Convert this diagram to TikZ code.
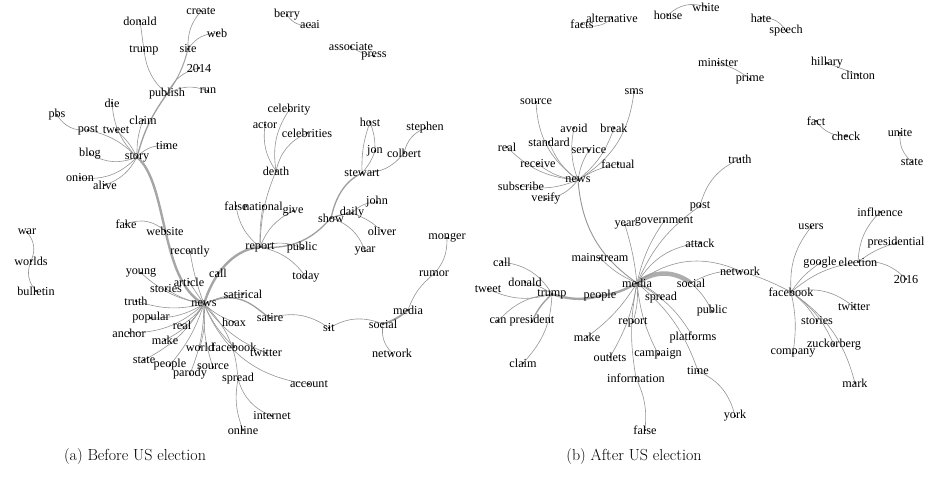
\documentclass[tikz,border=0pt]{standalone}
\usepackage{fontspec}
\newfontfamily\wordfont{Liberation Serif}
\usetikzlibrary{backgrounds}
\tikzset{
  dot/.style={circle,fill=black,inner sep=0pt,minimum size=2.2pt},
  wl/.style={font=\wordfont\fontsize{12.2}{13}\selectfont,inner sep=0pt},
  edge/.style={draw=black!42,line width=0.6pt},
  med/.style={edge,line width=1.3pt,draw=black!38},
  thk/.style={edge,line width=2.4pt,draw=black!35},
  vthk/.style={edge,line width=4.5pt,draw=black!32},
  captxt/.style={font=\fontsize{16}{18}\selectfont,inner sep=0pt}
}
\newcommand\W[4]{\node[dot,label={[wl]center:#4}] (#1) at (#2,#3) {};}
\newcommand\E[3][]{\draw[edge,#1] (#2) to (#3);}
\begin{document}
\begin{tikzpicture}[x=1pt,y=-1pt]
\useasboundingbox (0,0) rectangle (926,480);
% ---------- (a) nodes
\W{a-donald}{140}{21}{donald}
\W{a-trump}{144}{50}{trump}
\W{a-create}{201}{11}{create}
\W{a-web}{217}{33}{web}
\W{a-site}{188}{49}{site}
\W{a-2014}{199}{68}{2014}
\W{a-publish}{167}{94}{publish}
\W{a-run}{208}{91}{run}
\W{a-die}{112}{103}{die}
\W{a-pbs}{57}{115}{pbs}
\W{a-claim}{143}{120}{claim}
\W{a-post}{88}{130}{post}
\W{a-tweet}{116}{130}{tweet}
\W{a-time}{167}{146}{time}
\W{a-blog}{90}{154}{blog}
\W{a-story}{137}{157}{story}
\W{a-onion}{80}{178}{onion}
\W{a-alive}{105}{185}{alive}
\W{a-berry}{287}{15}{berry}
\W{a-acai}{310}{25}{acai}
\W{a-associate}{351}{47}{associate}
\W{a-press}{374}{56}{press}
\W{a-celebrity}{289}{110}{celebrity}
\W{a-actor}{265}{125}{actor}
\W{a-celebrities}{307}{133}{celebrities}
\W{a-death}{276}{171}{death}
\W{a-host}{370}{122}{host}
\W{a-stephen}{425}{128}{stephen}
\W{a-jon}{375}{151}{jon}
\W{a-colbert}{404}{153}{colbert}
\W{a-stewart}{362}{173}{stewart}
\W{a-false}{236}{206}{false}
\W{a-national}{263}{206}{national}
\W{a-give}{293}{211}{give}
\W{a-show}{331}{218}{show}
\W{a-daily}{352}{213}{daily}
\W{a-john}{377}{202}{john}
\W{a-oliver}{382}{231}{oliver}
\W{a-report}{260}{247}{report}
\W{a-public}{302}{248}{public}
\W{a-year}{365}{251}{year}
\W{a-today}{306}{277}{today}
\W{a-war}{27}{232}{war}
\W{a-worlds}{31}{261}{worlds}
\W{a-bulletin}{36}{291}{bulletin}
\W{a-fake}{126}{224}{fake}
\W{a-website}{165}{231}{website}
\W{a-recently}{190}{252}{recently}
\W{a-young}{141}{273}{young}
\W{a-call}{218}{273}{call}
\W{a-stories}{166}{289}{stories}
\W{a-article}{189}{282}{article}
\W{a-truth}{136}{301}{truth}
\W{a-news}{204}{304}{news}
\W{a-satirical}{243}{294}{satirical}
\W{a-popular}{151}{318}{popular}
\W{a-real}{182}{325}{real}
\W{a-hoax}{234}{322}{hoax}
\W{a-satire}{270}{318}{satire}
\W{a-anchor}{129}{333}{anchor}
\W{a-make}{165}{340}{make}
\W{a-world}{200}{347}{world}
\W{a-facebook}{234}{347}{facebook}
\W{a-twitter}{266}{353}{twitter}
\W{a-state}{144}{360}{state}
\W{a-people}{170}{365}{people}
\W{a-source}{213}{367}{source}
\W{a-parody}{190}{374}{parody}
\W{a-spread}{238}{379}{spread}
\W{a-account}{309}{384}{account}
\W{a-internet}{272}{416}{internet}
\W{a-online}{243}{430}{online}
\W{a-sit}{329}{328}{sit}
\W{a-social}{383}{324}{social}
\W{a-network}{392}{353}{network}
\W{a-media}{408}{310}{media}
\W{a-rumor}{434}{274}{rumor}
\W{a-monger}{447}{238}{monger}
% ---------- (b) nodes
\W{b-facts}{582}{24}{facts}
\W{b-alternative}{612}{18}{alternative}
\W{b-house}{668}{15}{house}
\W{b-white}{706}{7}{white}
\W{b-hate}{761}{18}{hate}
\W{b-speech}{786}{31}{speech}
\W{b-minister}{718}{63}{minister}
\W{b-prime}{750}{79}{prime}
\W{b-hillary}{827}{63}{hillary}
\W{b-clinton}{858}{75}{clinton}
\W{b-sms}{634}{92}{sms}
\W{b-source}{536}{102}{source}
\W{b-avoid}{574}{128}{avoid}
\W{b-break}{614}{128}{break}
\W{b-standard}{549}{142}{standard}
\W{b-real}{507}{147}{real}
\W{b-service}{589}{150}{service}
\W{b-receive}{538}{164}{receive}
\W{b-factual}{618}{164}{factual}
\W{b-news}{578}{180}{news}
\W{b-subscribe}{521}{186}{subscribe}
\W{b-verify}{546}{199}{verify}
\W{b-fact}{816}{121}{fact}
\W{b-check}{846}{136}{check}
\W{b-unite}{900}{133}{unite}
\W{b-state}{912}{162}{state}
\W{b-truth}{740}{159}{truth}
\W{b-post}{700}{206}{post}
\W{b-influence}{880}{212}{influence}
\W{b-year}{625}{225}{year}
\W{b-government}{664}{221}{government}
\W{b-users}{811}{227}{users}
\W{b-attack}{700}{243}{attack}
\W{b-presidential}{896}{243}{presidential}
\W{b-mainstream}{600}{258}{mainstream}
\W{b-call}{502}{262}{call}
\W{b-election}{858}{262}{election}
\W{b-google}{820}{263}{google}
\W{b-network}{740}{271}{network}
\W{b-2016}{906}{279}{2016}
\W{b-donald}{525}{282}{donald}
\W{b-media}{637}{283}{media}
\W{b-social}{691}{283}{social}
\W{b-tweet}{488}{289}{tweet}
\W{b-facebook}{791}{292}{facebook}
\W{b-trump}{552}{294}{trump}
\W{b-people}{600}{296}{people}
\W{b-spread}{661}{298}{spread}
\W{b-twitter}{854}{307}{twitter}
\W{b-public}{712}{311}{public}
\W{b-can}{498}{321}{can}
\W{b-president}{532}{321}{president}
\W{b-report}{633}{322}{report}
\W{b-stories}{817}{321}{stories}
\W{b-make}{587}{337}{make}
\W{b-platforms}{693}{337}{platforms}
\W{b-zuckerberg}{834}{345}{zuckerberg}
\W{b-company}{793}{353}{company}
\W{b-campaign}{658}{354}{campaign}
\W{b-outlets}{610}{357}{outlets}
\W{b-claim}{523}{363}{claim}
\W{b-time}{698}{371}{time}
\W{b-information}{636}{378}{information}
\W{b-mark}{855}{383}{mark}
\W{b-york}{735}{416}{york}
\W{b-false}{645}{430}{false}
% captions
\node[captxt] (capa) at (135,456) {(a) Before US election};
\node[captxt] (capb) at (634,456) {(b) After US election};
\begin{pgfonlayer}{background}
% ---------- (a) edges
\E[bend right=30]{a-pbs}{a-post}
\E[bend left=15]{a-post}{a-story}
\E[bend left=10]{a-tweet}{a-story}
\E[bend right=20]{a-die}{a-story}
\E[bend right=10]{a-claim}{a-story}
\E[bend right=25]{a-time}{a-story}
\E[bend right=25]{a-blog}{a-story}
\E[bend right=25]{a-onion}{a-story}
\E[bend right=20]{a-alive}{a-story}
\draw[med] (a-publish) to[bend right=10] (a-story);
\E{a-donald}{a-trump}
\E[bend right=20]{a-trump}{a-publish}
\draw[med,line width=1pt] (a-site) to[bend left=10] (a-publish);
\E[bend right=20]{a-create}{a-site}
\E[bend right=25]{a-web}{a-site}
\E[bend right=25]{a-2014}{a-publish}
\E[bend right=25]{a-run}{a-publish}
\E[bend right=30]{a-berry}{a-acai}
\E[bend right=10]{a-associate}{a-press}
\E[bend left=30]{a-war}{a-worlds}
\E[bend right=30]{a-worlds}{a-bulletin}
\draw[thk] (a-story) .. controls (168,185) and (160,280) .. (a-news);
\E[bend left=30]{a-fake}{a-website}
\E[bend right=5]{a-recently}{a-news}
\E[bend right=15]{a-young}{a-news}
\E[bend right=10]{a-stories}{a-news}
\E{a-article}{a-news}
\E[bend right=15]{a-truth}{a-news}
\E[bend right=15]{a-popular}{a-news}
\E[bend right=10]{a-real}{a-news}
\E[bend right=20]{a-anchor}{a-news}
\E[bend right=15]{a-make}{a-news}
\E[bend right=10]{a-world}{a-news}
\E[bend right=15]{a-state}{a-news}
\E[bend right=10]{a-people}{a-news}
\E[bend right=10]{a-parody}{a-news}
\E[bend left=10]{a-source}{a-news}
\E[bend left=10]{a-facebook}{a-news}
\E[bend left=10]{a-hoax}{a-news}
\E[bend left=15]{a-twitter}{a-news}
\E[bend left=30]{a-account}{a-news}
\E[bend right=20]{a-spread}{a-news}
\E[bend right=10]{a-satirical}{a-news}
\draw[med] (a-news) .. controls (240,288) and (255,308) .. (a-satire);
\E[bend right=25]{a-spread}{a-internet}
\E[bend right=15]{a-spread}{a-online}
\draw[thk] (a-news) .. controls (213,275) and (232,250) .. (a-report);
\E[bend right=10]{a-death}{a-report}
\E[bend left=20]{a-death}{a-actor}
\E[bend left=20]{a-death}{a-celebrity}
\E[bend left=25]{a-death}{a-celebrities}
\E[bend right=20]{a-false}{a-report}
\E[bend right=5]{a-national}{a-report}
\E[bend right=20]{a-give}{a-report}
\E[bend left=20]{a-report}{a-public}
\E[bend left=20]{a-report}{a-today}
\draw[med] (a-report) .. controls (300,250) and (318,232) .. (a-show);
\draw[med] (a-show) .. controls (337,192) and (348,180) .. (a-stewart);
\E[bend right=10]{a-stewart}{a-jon}
\E[bend right=10]{a-jon}{a-host}
\E[bend left=10]{a-stewart}{a-host}
\E[bend right=25]{a-stewart}{a-colbert}
\E[bend left=25]{a-colbert}{a-stephen}
\draw[med] (a-show) to[bend left=5] (a-daily);
\E[bend left=20]{a-daily}{a-john}
\E[bend left=10]{a-daily}{a-oliver}
\E[bend left=25]{a-show}{a-year}
\E[bend left=25]{a-satire}{a-sit}
\E[bend left=25]{a-sit}{a-social}
\draw[med,line width=1.8pt] (a-social) to[bend right=10] (a-media);
\E[bend left=15]{a-media}{a-rumor}
\E[bend right=20]{a-rumor}{a-monger}
\E[bend right=25]{a-social}{a-network}
% ---------- (b) edges
\E[bend right=30]{b-facts}{b-alternative}
\E[bend left=30]{b-house}{b-white}
\E[bend left=30]{b-hate}{b-speech}
\E[bend left=10]{b-minister}{b-prime}
\E{b-hillary}{b-clinton}
\E[bend right=25]{b-fact}{b-check}
\E[bend right=25]{b-unite}{b-state}
\E[bend right=25]{b-truth}{b-post}
\E[bend right=15]{b-post}{b-media}
\E[bend right=25]{b-source}{b-news}
\E[bend right=15]{b-avoid}{b-news}
\E[bend left=25]{b-sms}{b-news}
\E[bend left=15]{b-break}{b-news}
\E[bend right=15]{b-standard}{b-news}
\E[bend right=20]{b-real}{b-news}
\E[bend right=10]{b-service}{b-news}
\E[bend right=15]{b-receive}{b-news}
\E[bend right=10]{b-factual}{b-news}
\E[bend right=15]{b-subscribe}{b-news}
\E[bend right=20]{b-verify}{b-news}
\draw[edge,line width=0.9pt] (b-news) to[bend right=25] (b-media);
\E[bend left=5]{b-year}{b-media}
\E[bend right=10]{b-government}{b-media}
\E[bend right=25]{b-attack}{b-media}
\E[bend right=10]{b-mainstream}{b-media}
\draw[thk] (b-media) to[bend left=10] (b-people);
\draw[thk] (b-people) to[bend left=15] (b-trump);
\draw[vthk] (b-media) to[bend left=35] (b-social);
\E[bend left=10]{b-media}{b-spread}
\E[bend left=10]{b-media}{b-report}
\E[bend left=10]{b-media}{b-make}
\E[bend left=10]{b-media}{b-outlets}
\E[bend right=10]{b-media}{b-campaign}
\E[bend right=10]{b-media}{b-information}
\E[bend left=15]{b-information}{b-false}
\E[bend left=15]{b-media}{b-platforms}
\E[bend left=15]{b-media}{b-time}
\E[bend left=25]{b-time}{b-york}
\E[bend left=10]{b-social}{b-public}
\E[bend left=15]{b-social}{b-network}
\E[bend left=30]{b-media}{b-network}
\E[bend left=5]{b-network}{b-facebook}
\E[bend left=25]{b-call}{b-trump}
\E[bend left=10]{b-donald}{b-trump}
\E[bend right=20]{b-tweet}{b-trump}
\E[bend left=20]{b-can}{b-trump}
\draw[med] (b-president) to[bend left=10] (b-trump);
\E[bend right=20]{b-claim}{b-trump}
\E[bend right=20]{b-users}{b-facebook}
\E[bend right=10]{b-google}{b-facebook}
\E[bend right=15]{b-election}{b-facebook}
\E[bend left=20]{b-election}{b-influence}
\E[bend left=10]{b-election}{b-presidential}
\E[bend left=25]{b-election}{b-2016}
\E[bend left=25]{b-facebook}{b-twitter}
\E[bend left=10]{b-facebook}{b-stories}
\E[bend left=15]{b-facebook}{b-zuckerberg}
\E[bend left=20]{b-facebook}{b-mark}
\E[bend left=10]{b-facebook}{b-company}
\end{pgfonlayer}
\end{tikzpicture}
\end{document}
